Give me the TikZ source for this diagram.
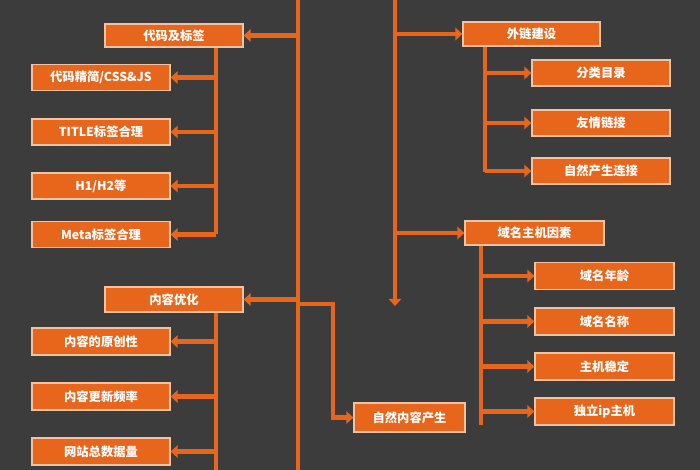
\documentclass[tikz,border=0pt]{standalone}
\usepackage{fontspec}
\newfontfamily\cjk{Noto Sans CJK SC}
\usetikzlibrary{arrows.meta}
\definecolor{bgdark}{HTML}{3D3C3C}
\definecolor{boxorange}{HTML}{E8661C}
\definecolor{boxedge}{HTML}{F2C3A2}
\tikzset{
  box/.style={draw=boxedge,line width=0.7pt,fill=boxorange,text=white,
    font=\cjk\scriptsize\bfseries,inner sep=0pt},
  link/.style={draw=boxorange,line width=2.6pt,-{Triangle[length=4pt,width=7pt]}},
  bar/.style={draw=boxorange,line width=2.6pt}
}
\begin{document}
\begin{tikzpicture}[x=0.02cm,y=-0.02cm]
    \fill[bgdark] (0,0) rectangle (700,470);
    \useasboundingbox (0,0) rectangle (700,470);

    % trunks
    \coordinate (t1) at (298,0);
    \coordinate (t1b) at (298,470);
    \coordinate (t2) at (395,0);
    \coordinate (t2b) at (395,306);
    \draw[bar] (t1) -- (t1b);
    \draw[link] (t2) -- (t2b);

    % left: code and tags
    \node[box,minimum width=2.76cm,minimum height=0.46cm] (code) at (174,35.5) {代码及标签};
    \draw[link] (298,35.5) -- (code.east);
    \draw[bar] (code.south -| 216,0) -- (216,234);
    \foreach \y/\txt/\nm in {77.5/{代码精简/CSS\&JS}/c1,132/{TITLE标签合理}/c2,
                             186/{H1/H2等}/c3,234.5/{Meta标签合理}/c4}{
        \node[box,minimum width=2.76cm,minimum height=0.52cm] (\nm) at (101,\y) {\txt};
        \draw[link] (216,\y) -- (\nm.east);
    }

    % left: content
    \node[box,minimum width=2.76cm,minimum height=0.5cm] (cont) at (174,299.5) {内容优化};
    \draw[link] (298,299.5) -- (cont.east);
    \draw[bar] (cont.south -| 216,0) -- (216,470);
    \foreach \y/\txt/\nm in {341.5/内容的原创性/d1,396.5/内容更新频率/d2,451.5/网站总数据量/d3}{
        \node[box,minimum width=2.76cm,minimum height=0.54cm] (\nm) at (101,\y) {\txt};
        \draw[link] (216,\y) -- (\nm.east);
    }

    % natural content
    \node[box,minimum width=2.22cm,minimum height=0.58cm] (nat) at (409.5,417.5) {自然内容产生};
    \draw[link] (298,304) -| (333,417.5) -- (nat.west);

    % right: links
    \node[box,minimum width=2.74cm,minimum height=0.48cm] (ext) at (531.5,34) {外链建设};
    \draw[link] (395,34) -- (ext.west);
    \draw[bar] (ext.south -| 485,0) -- (485,172);
    \foreach \y/\txt/\nm in {73/分类目录/e1,123/友情链接/e2,171/自然产生连接/e3}{
        \node[box,minimum width=2.76cm,minimum height=0.52cm] (\nm) at (601,\y) {\txt};
        \draw[link] (485,\y) -- (\nm.west);
    }

    % right: domain and host
    \node[box,minimum width=2.78cm,minimum height=0.48cm] (dom) at (534.5,233) {域名主机因素};
    \draw[link] (395,233) -- (dom.west);
    \draw[bar] (dom.south -| 481,0) -- (481,425);
    \foreach \y/\txt/\nm in {276/域名年龄/f1,321.5/域名名称/f2,366.5/主机稳定/f3,411.5/独立ip主机/f4}{
        \node[box,minimum width=2.78cm,minimum height=0.54cm] (\nm) at (604.5,\y) {\txt};
        \draw[link] (481,\y) -- (\nm.west);
    }
\end{tikzpicture}
\end{document}
